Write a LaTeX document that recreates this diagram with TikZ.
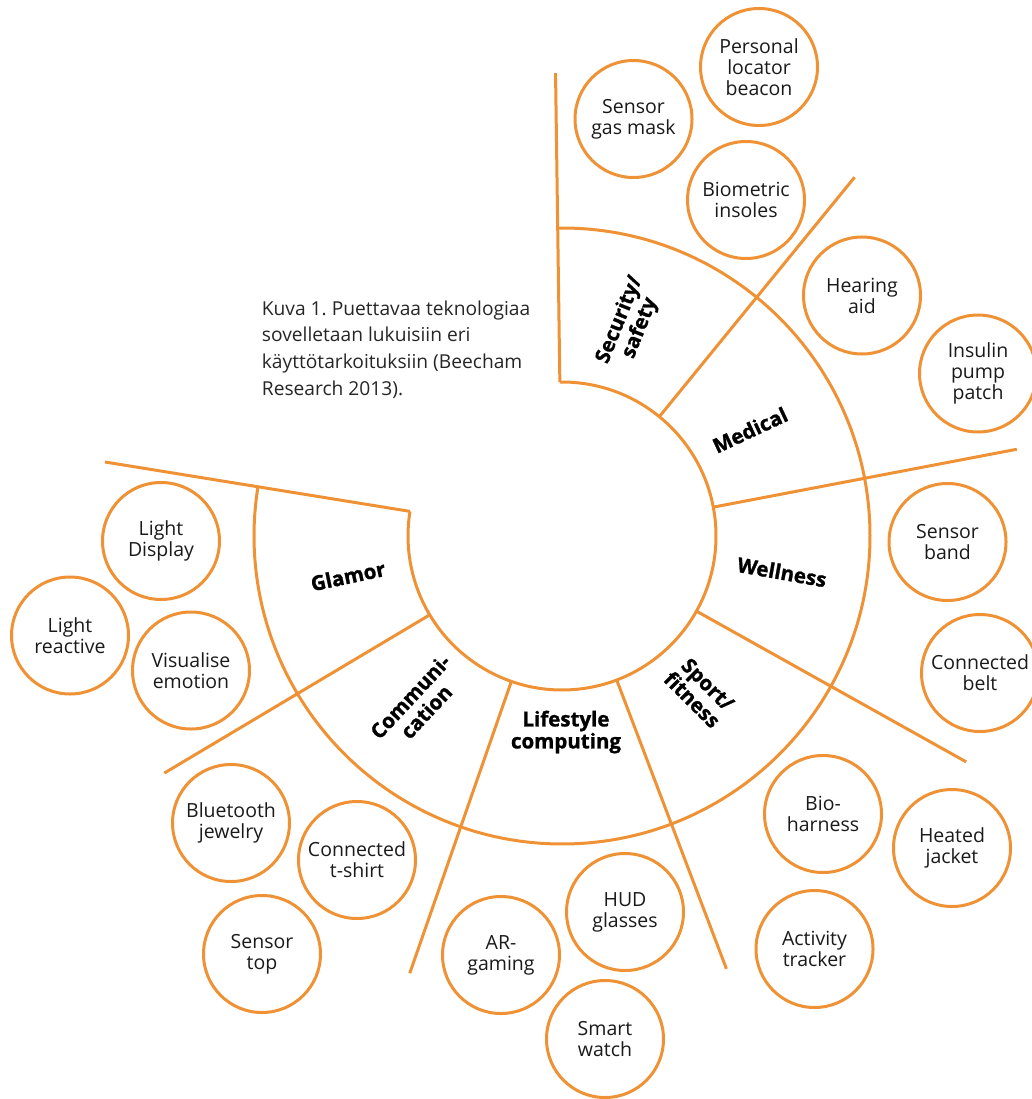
\documentclass[tikz,border=0pt]{standalone}
\usepackage{fontspec}
\setmainfont{Open Sans}
\newfontfamily\sectorfont{Open Sans}[BoldFeatures={FakeBold=1.2}]
\usepackage{xcolor}
\usepackage{tikz}
\usetikzlibrary{calc}
\definecolor{wearorange}{HTML}{EF9236}
\definecolor{ink}{HTML}{1A1A1A}
\frenchspacing

\begin{document}
\begin{tikzpicture}[x=1pt, y=1pt,
  ring/.style={draw=wearorange, line width=3pt},
  device/.style={circle, draw=wearorange, line width=3pt, minimum size=117pt, inner sep=0pt, align=center, text=ink, font=\fontsize{19.5}{21}\selectfont},
  sector/.style={align=center, inner sep=0pt, text=black, font=\fontsize{20.5}{22}\sectorfont\bfseries}
]
  \useasboundingbox (0,0) rectangle (1031,-1099);
  \coordinate (hub) at (562,-536);

  % rings and spokes
  \draw[ring] ($(hub)+(90.8:308)$) arc[start angle=90.8, end angle=-189.2, radius=308];
  \draw[ring] ($(hub)+(90.8:154)$) arc[start angle=90.8, end angle=-189.2, radius=154];
  \foreach \a in {90.8, 50.8, 10.8, -29.2, -69.2, -109.2, -149.2, -189.2}
    \draw[ring] ($(hub)+(\a:154)$) -- ($(hub)+(\a:463)$);

  % sector names
  \node[sector, rotate=68] (security) at (630,-324) {Security/\\safety};
  \node[sector, rotate=25] (medical) at (750,-430) {Medical};
  \node[sector, rotate=-10] (wellness) at (782,-572) {Wellness};
  \node[sector, rotate=-45] (sport) at (700,-692) {Sport/\\fitness};
  \node[sector] (lifestyle) at (566,-732) {Lifestyle\\computing};
  \node[sector, rotate=47] (communication) at (418,-704) {Communi-\\cation};
  \node[sector, rotate=12] (glamor) at (348,-576) {Glamor};

  \node[anchor=north west, inner sep=0pt, align=left, text=black!85, font=\fontsize{19.2}{26.7}\selectfont] (caption) at (261.7,-300.5) {Kuva 1. Puettavaa teknologiaa\\sovelletaan lukuisiin eri\\käyttötarkoituksiin (Beecham\\Research 2013).};

  % devices
  \node[device] (beacon) at (759,-67) {Personal\\locator\\beacon};
  \node[device] (gasmask) at (633.5,-119) {Sensor\\gas mask};
  \node[device] (insoles) at (746,-200) {Biometric\\insoles};
  \node[device] (hearing) at (862,-295.5) {Hearing\\aid};
  \node[device] (insulin) at (978,-373.5) {Insulin\\pump\\patch};
  \node[device] (band) at (947.5,-542) {Sensor\\band};
  \node[device] (belt) at (980,-673) {Connected\\belt};
  \node[device] (bioharness) at (823,-814) {Bio-\\harness};
  \node[device] (jacket) at (952,-848) {Heated\\jacket};
  \node[device] (tracker) at (814.5,-949) {Activity\\tracker};
  \node[device] (hud) at (625,-912) {HUD\\glasses};
  \node[device] (argaming) at (501,-955) {AR-\\gaming};
  \node[device] (watch) at (605,-1039) {Smart\\watch};
  \node[device] (tshirt) at (357,-860) {Connected\\t-shirt};
  \node[device] (jewelry) at (231,-823) {Bluetooth\\jewelry};
  \node[device] (sensortop) at (262,-954) {Sensor\\top};
  \node[device] (emotion) at (191,-670.5) {Visualise\\emotion};
  \node[device] (reactive) at (70,-635.5) {Light\\reactive};
  \node[device] (display) at (161,-541) {Light\\Display};
\end{tikzpicture}
\end{document}
